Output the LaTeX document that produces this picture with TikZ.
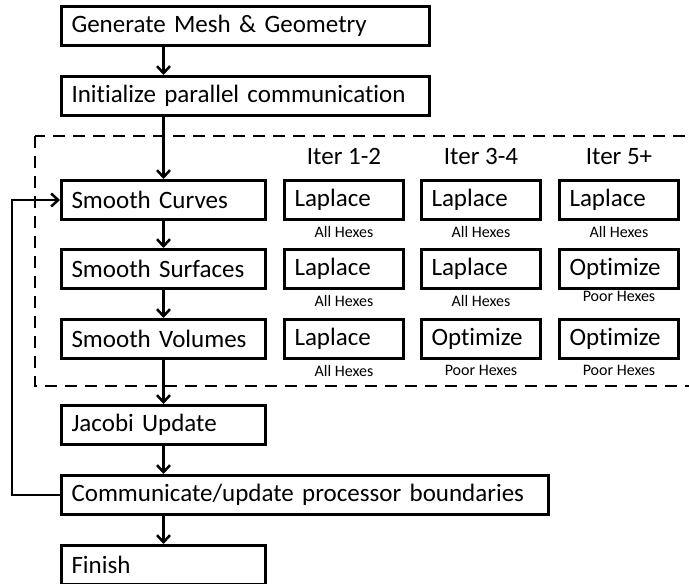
\documentclass[tikz,border=0pt]{standalone}
\usepackage{fontspec}
\setmainfont{Carlito}[Ligatures=NoCommon]
\usetikzlibrary{arrows.meta, positioning}
\tikzset{
    stepbox/.style={rectangle, draw=black, line width=3pt, minimum height=39pt, inner xsep=10pt, align=left, text width=#1, font=\fontsize{25}{30}\selectfont},
    smoothbox/.style={stepbox=184pt},
    iterbox/.style={stepbox=99pt},
    hexlbl/.style={inner sep=0pt, font=\fontsize{16}{19}\selectfont},
    itertitle/.style={inner sep=0pt, font=\fontsize{25}{30}\selectfont},
    flow/.style={-{Straight Barb[length=7pt, width=13pt]}, line width=2.5pt, black},
    loopframe/.style={dash pattern=on 12pt off 8pt, line width=2.5pt},
}

\begin{document}
\begin{tikzpicture}[x=1pt, y=1pt]
\useasboundingbox (0,0) rectangle (689,-584);
\clip (0,0) rectangle (689,-584);

% Setup steps
\node[stepbox=348pt, anchor=north west] (gen) at (60,-5) {Generate Mesh \& Geometry};
\node[stepbox=348pt, below=28pt of gen.south west, anchor=north west] (init) {Initialize parallel communication};

% Smoothing passes
\node[smoothbox, below=62pt of init.south west, anchor=north west] (curves) {Smooth Curves};
\node[smoothbox, below=27pt of curves] (surfaces) {Smooth Surfaces};
\node[smoothbox, below=28pt of surfaces] (volumes) {Smooth Volumes};

% Update and finish
\node[smoothbox, below=44pt of volumes] (jacobi) {Jacobi Update};
\node[stepbox=467pt, below=28pt of jacobi.south west, anchor=north west] (comm) {Communicate/update processor boundaries};
\node[smoothbox, below=28pt of comm.south west, anchor=north west] (finish) {Finish};

% Iter 1-2 column
\node[iterbox, right=16pt of curves] (it1-curves) {Laplace};
\node[iterbox, right=16pt of surfaces] (it1-surf) {Laplace};
\node[iterbox, right=16pt of volumes] (it1-vol) {Laplace};
\node[hexlbl, below=5pt of it1-curves] (it1-curves-lbl) {All Hexes};
\node[hexlbl, below=5pt of it1-surf] (it1-surf-lbl) {All Hexes};
\node[hexlbl, below=5pt of it1-vol] (it1-vol-lbl) {All Hexes};
\node[itertitle, above=14pt of it1-curves] (it1-title) {Iter 1-2};

% Iter 3-4 column
\node[iterbox, right=15pt of it1-curves] (it2-curves) {Laplace};
\node[iterbox, right=15pt of it1-surf] (it2-surf) {Laplace};
\node[iterbox, right=15pt of it1-vol] (it2-vol) {Optimize};
\node[hexlbl, below=5pt of it2-curves] (it2-curves-lbl) {All Hexes};
\node[hexlbl, below=5pt of it2-surf] (it2-surf-lbl) {All Hexes};
\node[hexlbl, below=5pt of it2-vol] (it2-vol-lbl) {Poor Hexes};
\node[itertitle, above=14pt of it2-curves] (it2-title) {Iter 3-4};

% Iter 5+ column
\node[iterbox, right=16pt of it2-curves] (it3-curves) {Laplace};
\node[iterbox, right=16pt of it2-surf] (it3-surf) {Optimize};
\node[iterbox, right=16pt of it2-vol] (it3-vol) {Optimize};
\node[hexlbl, below=5pt of it3-curves] (it3-curves-lbl) {All Hexes};
\node[hexlbl, below=1pt of it3-surf] (it3-surf-lbl) {Poor Hexes};
\node[hexlbl, below=5pt of it3-vol] (it3-vol-lbl) {Poor Hexes};
\node[itertitle, above=14pt of it3-curves] (it3-title) {Iter 5+};

% Dashed frame round the smoothing loop
\draw[loopframe] ([xshift=-25pt, yshift=43pt]curves.north west) rectangle ([xshift=30pt, yshift=-26pt]it3-vol.south east);

% Arrows
\draw[flow] (gen.south -| curves.north) -- (init.north -| curves.north);
\draw[flow] (init.south -| curves.north) -- (curves.north);
\draw[flow] (curves.south) -- (surfaces.north);
\draw[flow] (surfaces.south) -- (volumes.north);
\draw[flow] (volumes.south) -- (jacobi.north);
\draw[flow] (jacobi.south) -- (comm.north -| jacobi.south);
\draw[flow] (comm.south -| finish.north) -- (finish.north);

% Loop back to the curves
\coordinate (back) at ([xshift=-48pt]comm.west);
\draw[flow] (comm.west) -- (back) |- (curves.west);

\end{tikzpicture}
\end{document}
